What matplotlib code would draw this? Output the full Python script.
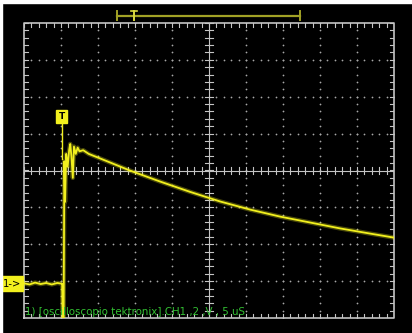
import numpy as np
import matplotlib
matplotlib.use("Agg")
import matplotlib.pyplot as plt
from matplotlib.patches import Rectangle

# Screen layout: 10 horizontal x 8 vertical divisions
n_xdiv = 10
n_ydiv = 8

# CH1 trace (time in divisions, voltage in divisions)
pre_t = [0.0, 0.15, 0.3, 0.45, 0.6, 0.75, 0.9, 1.02]
pre_v = [-3.06, -3.09, -3.04, -3.08, -3.05, -3.09, -3.05, -3.07]

edge_t = [1.03, 1.05, 1.07, 1.09, 1.11, 1.14, 1.18, 1.22, 1.25, 1.28, 1.32, 1.35, 1.40, 1.45, 1.50, 1.60, 1.75]
edge_v = [-3.07, -4.4, -4.4, 0.25, -0.85, 0.45, 0.1, 0.55, 0.72, 0.4, -0.2, 0.65, 0.45, 0.62, 0.52, 0.55, 0.45]

decay_t = [2.05, 2.86, 3.68, 4.49, 5.30, 6.11, 6.92, 7.73, 8.54, 9.35, 10.0]
decay_v = [0.33, 0.0, -0.30, -0.58, -0.84, -1.06, -1.25, -1.41, -1.57, -1.71, -1.82]

trig_pos = 1.02
trig_window = (2.51, 7.46)
trig_mark = 2.97
ch1_level = -3.07
caption = "1) [oscilloscopio tektronix].CH1 ,2 ,V , 5 uS"

trace_color = "#f2f01e"
grid_color = "#c4c4c4"
dot_color = "#a8a8a8"

fig = plt.figure(figsize=(4.12, 3.33), dpi=100, facecolor="black")
fig.patches.append(Rectangle((0, 1 - 3 / 333), 1, 3 / 333, transform=fig.transFigure,
                             color="white", zorder=0))
fig.patches.append(Rectangle((0, 0), 1.5 / 412, 1, transform=fig.transFigure,
                             color="white", zorder=0))

ax = fig.add_axes([24 / 412, 15 / 333, 370 / 412, 295 / 333])
ax.set_facecolor("black")
ax.set_xlim(0, n_xdiv)
ax.set_ylim(-n_ydiv / 2, n_ydiv / 2)
ax.axis("off")

# dotted graticule
minor_x = np.arange(0, n_xdiv + 0.001, 0.2)
minor_y = np.arange(-n_ydiv / 2, n_ydiv / 2 + 0.001, 0.2)
for i in range(1, n_xdiv):
    if i == n_xdiv // 2:
        continue
    ax.scatter(np.full_like(minor_y, i), minor_y, s=1.6, color=dot_color, lw=0, zorder=1)
for j in range(-n_ydiv // 2 + 1, n_ydiv // 2):
    if j == 0:
        continue
    ax.scatter(minor_x, np.full_like(minor_x, j), s=1.6, color=dot_color, lw=0, zorder=1)

# centre axes with minor ticks
ax.plot([n_xdiv / 2, n_xdiv / 2], [-4, 4], color=grid_color, lw=0.8, zorder=1)
ax.plot([0, n_xdiv], [0, 0], color=grid_color, lw=0.8, zorder=1)
for y in minor_y:
    ax.plot([n_xdiv / 2 - 0.1, n_xdiv / 2 + 0.1], [y, y], color=grid_color, lw=0.8, zorder=1)
for x in minor_x:
    ax.plot([x, x], [-0.1, 0.1], color=grid_color, lw=0.8, zorder=1)

# frame with inward ticks
ax.plot([0, n_xdiv, n_xdiv, 0, 0], [-4, -4, 4, 4, -4], color=grid_color, lw=1.2,
        zorder=2, clip_on=False)
for x in minor_x:
    ax.plot([x, x], [4, 3.88], color=grid_color, lw=0.8, zorder=2)
    ax.plot([x, x], [-4, -3.88], color=grid_color, lw=0.8, zorder=2)
for y in minor_y:
    ax.plot([0, 0.1], [y, y], color=grid_color, lw=0.8, zorder=2)
    ax.plot([n_xdiv, n_xdiv - 0.1], [y, y], color=grid_color, lw=0.8, zorder=2)

# signal
t = pre_t + edge_t + decay_t
v = pre_v + edge_v + decay_v
ax.plot(t, v, color=trace_color, lw=3.2, alpha=0.3, zorder=3, solid_joinstyle="round")
ax.plot(t, v, color=trace_color, lw=1.3, zorder=4, solid_joinstyle="round")

# trigger marker
ax.plot([trig_pos, trig_pos], [1.3, 0.3], color=trace_color, lw=1.0, zorder=4)
ax.text(trig_pos, 1.46, "T", color="black", fontsize=6.5, fontweight="bold",
        ha="center", va="center", zorder=6,
        bbox=dict(boxstyle="square,pad=0.25", fc=trace_color, ec=trace_color))

# channel ground marker
ax.text(-0.33, ch1_level, "1->", color="black", fontsize=7.2, ha="center", va="center",
        zorder=6, clip_on=False,
        bbox=dict(boxstyle="square,pad=0.25", fc=trace_color, ec=trace_color))

# trigger window bar above the screen
bar_y = 4.2
bar_col = "#a2a226"
ax.plot(trig_window, [bar_y, bar_y], color=bar_col, lw=1.6, clip_on=False, zorder=5)
for x in trig_window:
    ax.plot([x, x], [bar_y - 0.12, bar_y + 0.12], color=bar_col, lw=1.4, clip_on=False, zorder=5)
ax.plot([trig_mark, trig_mark], [bar_y - 0.12, bar_y + 0.12], color="#d8d840", lw=1.4,
        clip_on=False, zorder=5)
ax.plot([trig_mark - 0.08, trig_mark + 0.08], [bar_y + 0.12, bar_y + 0.12], color="#d8d840",
        lw=1.2, clip_on=False, zorder=5)

# caption
ax.text(0.03, -3.97, caption, color="#32c032", fontsize=7.4, ha="left", va="bottom", zorder=6)

fig.savefig("out.png", dpi=100, facecolor="black")
